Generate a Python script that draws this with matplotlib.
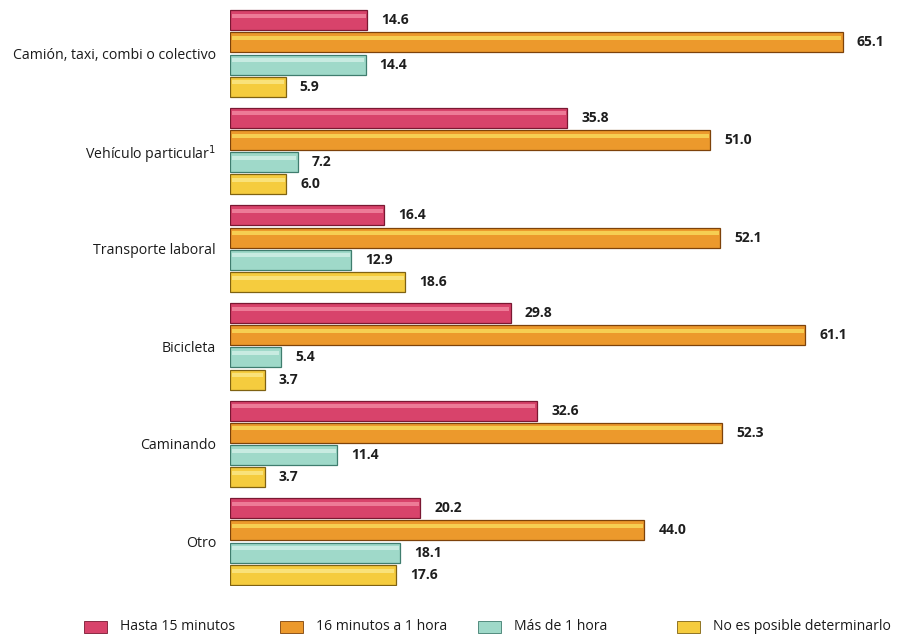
import numpy as np
import matplotlib
matplotlib.use("Agg")
import matplotlib.pyplot as plt
from matplotlib.patches import Rectangle

plt.rcParams['font.family'] = ['Open Sans', 'DejaVu Sans']

categories = ["Camión, taxi, combi o colectivo", "Vehículo particular$^{1}$",
              "Transporte laboral", "Bicicleta", "Caminando", "Otro"]
series_names = ["Hasta 15 minutos", "16 minutos a 1 hora",
                "Más de 1 hora", "No es posible determinarlo"]
hasta_15 = [14.6, 35.8, 16.4, 29.8, 32.6, 20.2]
de_16_a_1h = [65.1, 51.0, 52.1, 61.1, 52.3, 44.0]
mas_1h = [14.4, 7.2, 12.9, 5.4, 11.4, 18.1]
no_determinado = [5.9, 6.0, 18.6, 3.7, 3.7, 17.6]

fill_colors = ["#d8436b", "#ec992c", "#9fd9c9", "#f5cc3e"]
edge_colors = ["#7a1832", "#7d420a", "#3f7d6e", "#7f6212"]
shine_colors = ["#f38aa3", "#f9dc5c", "#d3f0e8", "#fbe88a"]

fig = plt.figure(figsize=(9.03, 6.35), dpi=100)
ax = fig.add_axes([230 / 903, 1 - 586 / 635, (889 - 230) / 903, 577 / 635])

y = np.arange(len(categories))
step = 0.228
height = 0.205
offsets = (np.arange(4) - 1.5) * step
all_series = [hasta_15, de_16_a_1h, mas_1h, no_determinado]

for i, vals in enumerate(all_series):
    pos = y + offsets[i]
    ax.barh(pos, vals, height=height, color=fill_colors[i],
            edgecolor=edge_colors[i], linewidth=0.9, zorder=2)
    # light streak near the top of each bar
    ax.barh(pos - height * 0.22, np.array(vals) - 0.35, height=height * 0.2,
            left=0.2, color=shine_colors[i], linewidth=0, alpha=0.8, zorder=3)
    for p, v in zip(pos, vals):
        ax.text(v + 1.5, p, f"{v:.1f}", va='center', ha='left',
                fontsize=10, fontweight='bold', color='#1e1e1e')

ax.set_xlim(0, 70)
ax.set_ylim(len(categories) - 1 + 0.455, -0.455)
ax.set_yticks(y)
ax.set_yticklabels(categories, fontsize=10.2, fontweight='medium', color='#1a1a1a')
ax.tick_params(axis='y', length=0, pad=10)
ax.set_xticks([])
for s in ax.spines.values():
    s.set_visible(False)

# legend along the bottom
legend_x = [84, 280, 478, 677]
for i, name in enumerate(series_names):
    x0 = legend_x[i] / 903
    fig.patches.append(Rectangle((x0, 1 - 633 / 635), 23 / 903, 12 / 635,
                                 transform=fig.transFigure,
                                 facecolor=fill_colors[i],
                                 edgecolor=edge_colors[i], linewidth=0.6))
    fig.text(x0 + 36 / 903, 1 - 627 / 635, name, va='center', ha='left',
             fontsize=10.05, color='#1a1a1a')

fig.savefig("out.png", dpi=100)
